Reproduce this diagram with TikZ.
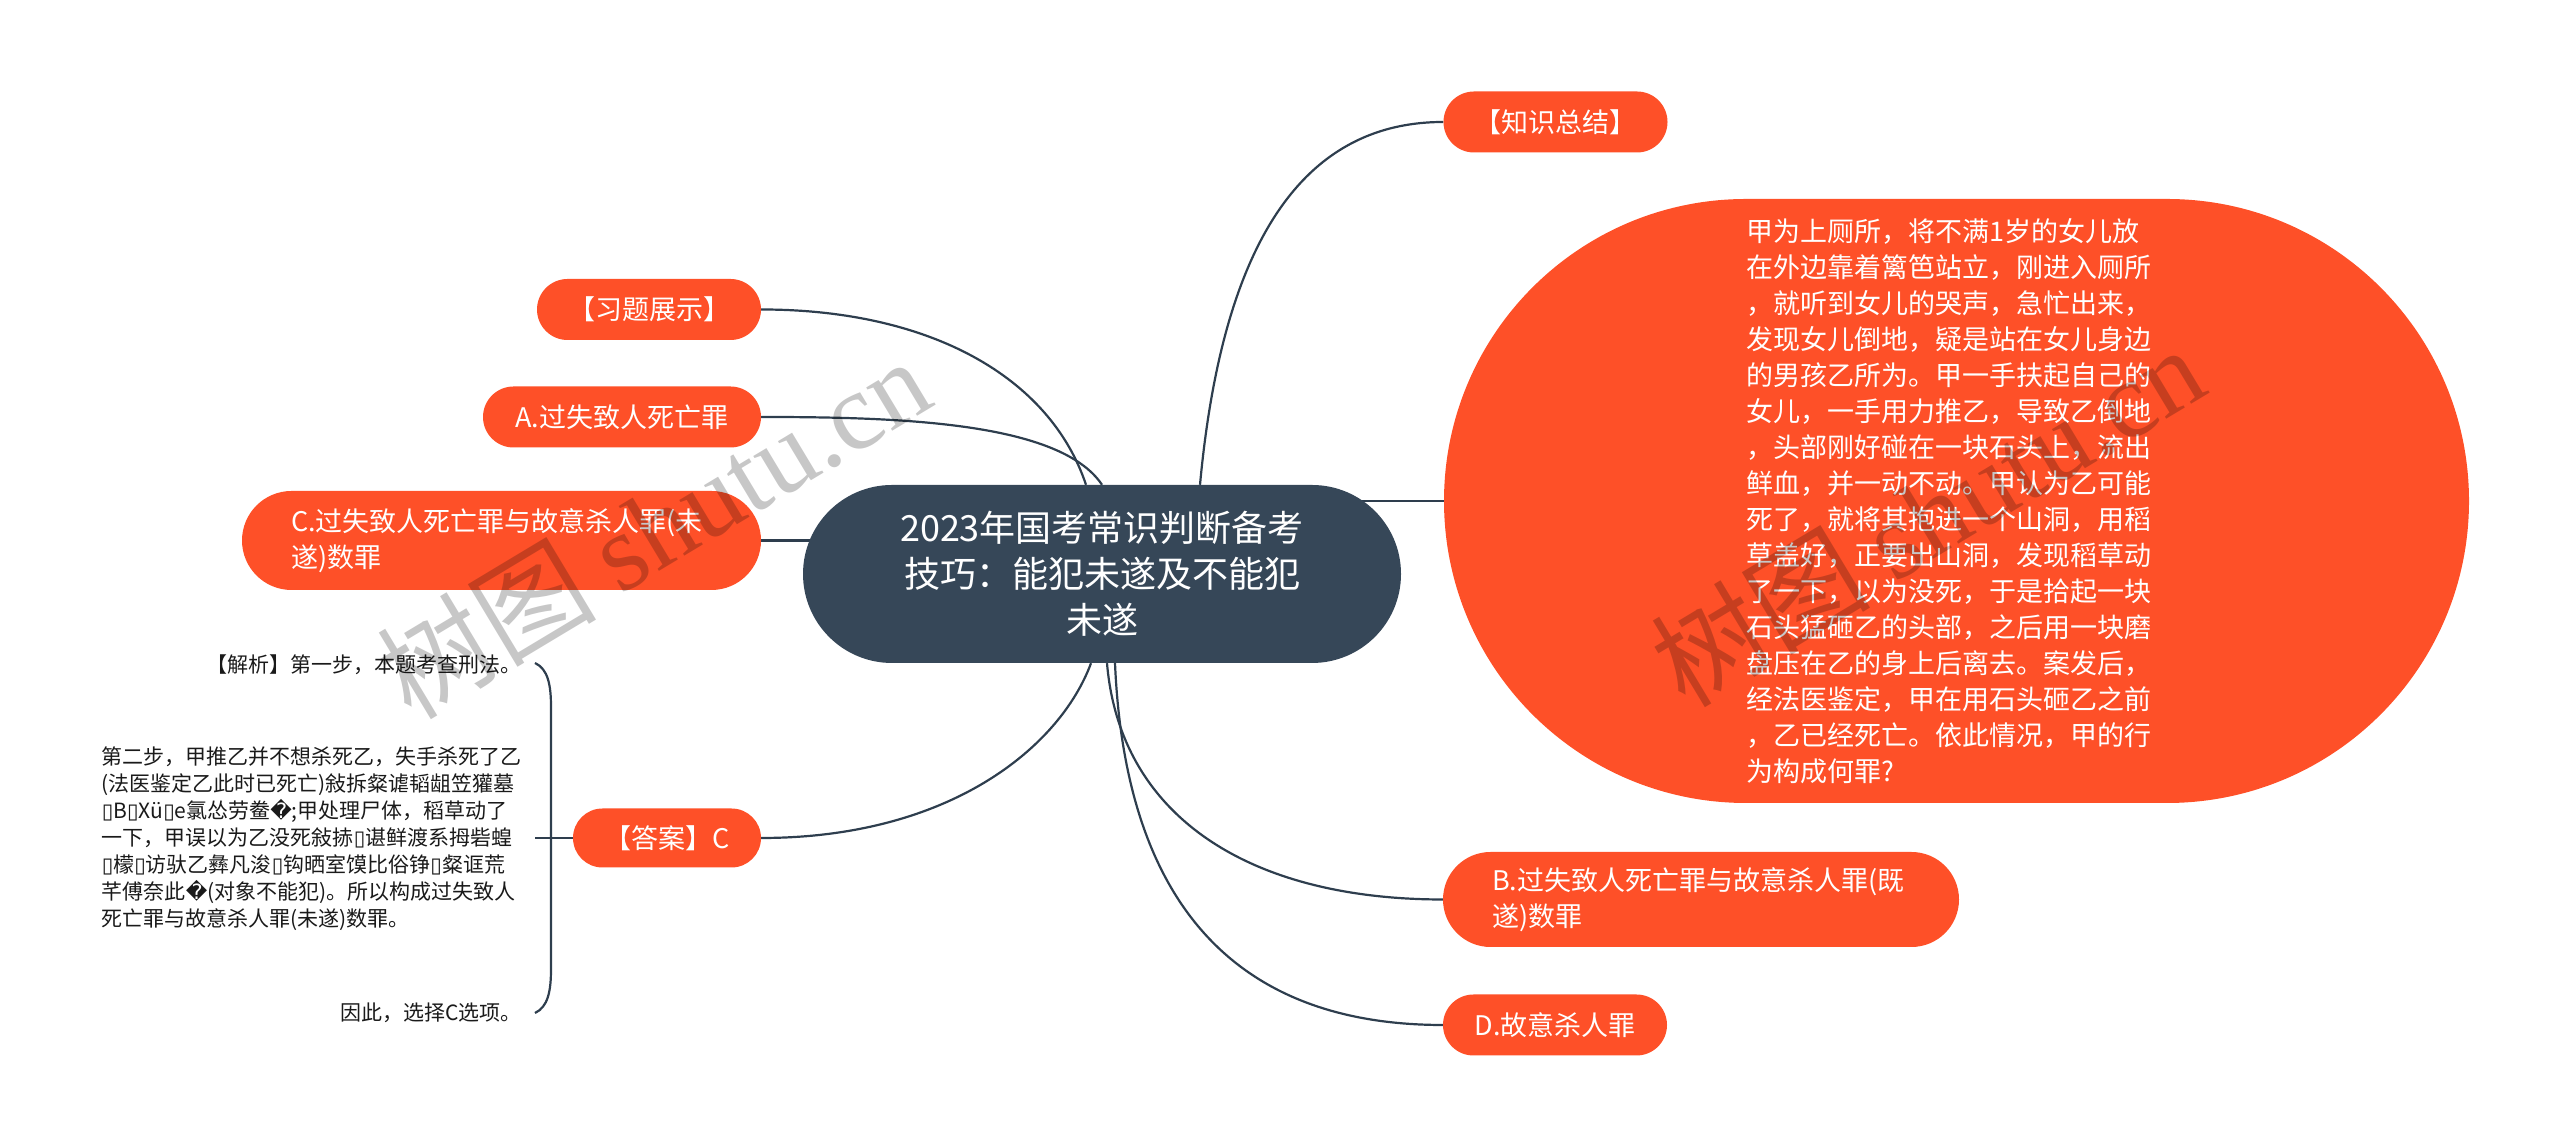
\documentclass[tikz,border=0pt]{standalone}
\usepackage{fontspec}
\setmainfont{Noto Sans CJK SC}
\newfontfamily\dejavu{DejaVu Sans}
\newfontfamily\wmserif{Liberation Serif}
\usetikzlibrary{positioning}
\definecolor{Slate}{HTML}{364758}
\definecolor{Flame}{HTML}{FE5028}
\definecolor{Wire}{HTML}{2E3E4E}
\definecolor{Ink}{HTML}{1A1A1A}
\newcommand{\tofu}{{\dejavu ▯}}
\newcommand{\qbad}{{\dejavu �}}
\pgfdeclarelayer{bg}
\pgfsetlayers{bg,main}

\begin{document}
\begin{tikzpicture}[x=1pt,y=1pt,
  topic/.style={fill=Flame,text=white,inner sep=0pt,minimum height=61pt,
    rounded corners=30.5pt,font=\fontsize{27}{36}\selectfont},
  wire/.style={Wire,line width=2.2pt},
  note/.style={text=Ink,anchor=east,inner sep=0pt,font=\fontsize{21}{27}\selectfont},
  stamp/.style={text=black,text opacity=0.22,rotate=31,inner sep=0pt,
    font=\fontsize{110}{110}\selectfont}]
  \useasboundingbox (0,0) rectangle (2560,1147);
  % centre topic
  \node[fill=Slate,text=white,rounded corners=89pt,minimum width=598pt,minimum height=178pt,
    inner sep=0pt,align=center,font=\fontsize{36}{46}\selectfont] (root) at (1102,573)
    {2023年国考常识判断备考\\技巧：能犯未遂及不能犯\\未遂};
  % right side
  \node[topic,minimum width=224pt] (summ) at (1555.5,1025) {【知识总结】};
  \node[topic,minimum width=1025pt,minimum height=604pt,rounded corners=302pt,
    text width=420pt,align=left] (story) at (1956.5,646)
    {甲为上厕所，将不满1岁的女儿放\\在外边靠着篱笆站立，刚进入厕所\\，就听到女儿的哭声，急忙出来，\\发现女儿倒地，疑是站在女儿身边\\的男孩乙所为。甲一手扶起自己的\\女儿，一手用力推乙，导致乙倒地\\，头部刚好碰在一块石头上，流出\\鲜血，并一动不动。甲认为乙可能\\死了，就将其抱进一个山洞，用稻\\草盖好，正要出山洞，发现稻草动\\了一下，以为没死，于是拾起一块\\石头猛砸乙的头部，之后用一块磨\\盘压在乙的身上后离去。案发后，\\经法医鉴定，甲在用石头砸乙之前\\，乙已经死亡。依此情况，甲的行\\为构成何罪?};
  \node[topic,minimum width=516pt,minimum height=95pt,rounded corners=47.5pt,
    text width=418pt,align=left] (optb) at (1701,247.5)
    {B.过失致人死亡罪与故意杀人罪(既\\遂)数罪};
  \node[topic,minimum width=224pt] (optd) at (1555,122) {D.故意杀人罪};
  % left side
  \node[topic,minimum width=224pt] (drill) at (649,837.5) {【习题展示】};
  \node[topic,minimum width=278pt] (opta) at (622,730) {A.过失致人死亡罪};
  \node[topic,minimum width=519pt,minimum height=99pt,rounded corners=49.5pt,
    text width=421pt,align=left] (optc) at (501.5,606.5)
    {C.过失致人死亡罪与故意杀人罪(未\\遂)数罪};
  \node[topic,minimum width=188pt,minimum height=59pt,rounded corners=29.5pt] (ans) at (667,309) {【答案】C};
  % answer notes
  \node[note] (expl) at (522,482) {【解析】第一步，本题考查刑法。};
  \node[note,align=left] (step2) at (522,308)
    {第二步，甲推乙并不想杀死乙，失手杀死了乙\\(法医鉴定乙此时已死亡)敍拆粲谑韬龃笠獾墓\\\tofu B\tofu Xü\tofu e氯怂劳鲞\qbad;甲处理尸体，稻草动了\\一下，甲误以为乙没死敍捇\tofu 谌鲜渡系拇砦蝗\\\tofu 檬\tofu 访驮乙彝凡浚\tofu 钩晒室馍比俗铮\tofu 粲诓荒\\芊傅奈此\qbad(对象不能犯)。所以构成过失致人\\死亡罪与故意杀人罪(未遂)数罪。};
  \node[note] (concl) at (522,134) {因此，选择C选项。};
  \coordinate (braceT) at (535,484);
  \coordinate (braceM) at (535,309);
  \coordinate (braceB) at (535,134);
  % connectors
  \begin{pgfonlayer}{bg}
    \draw[wire] ([xshift=98pt]root.north) .. controls (1222,900) and (1300,1025) .. (summ.west);
    \draw[wire] (root.center |- story.west) -- (story.west);
    \draw[wire] ([xshift=5pt]root.south) .. controls (1120,330) and (1250,247.5) .. (optb.west);
    \draw[wire] ([xshift=13pt]root.south) .. controls (1125,250) and (1230,122) .. (optd.west);
    \draw[wire] ([xshift=-16pt]root.north) .. controls (1050,770) and (930,837.5) .. (drill.east);
    \draw[wire] (root.north) .. controls (1060,725) and (900,730) .. (opta.east);
    \draw[wire] (optc.east -| root.center) -- (optc.east);
    \draw[wire] ([xshift=-11pt]root.south) .. controls (1060,400) and (950,309) .. (ans.east);
    \draw[wire] (braceT) .. controls (548,478) and (551,462) .. (551,440)
      -- (551,178) .. controls (551,156) and (548,140) .. (braceB);
    \draw[wire] (braceM) -- (ans.west);
  \end{pgfonlayer}
  % watermark
  \node[stamp] (wmleft) at (653,620) {树图 {\wmserif shutu.cn}};
  \node[stamp] (wmright) at (1927,632) {树图 {\wmserif shutu.cn}};
\end{tikzpicture}
\end{document}
